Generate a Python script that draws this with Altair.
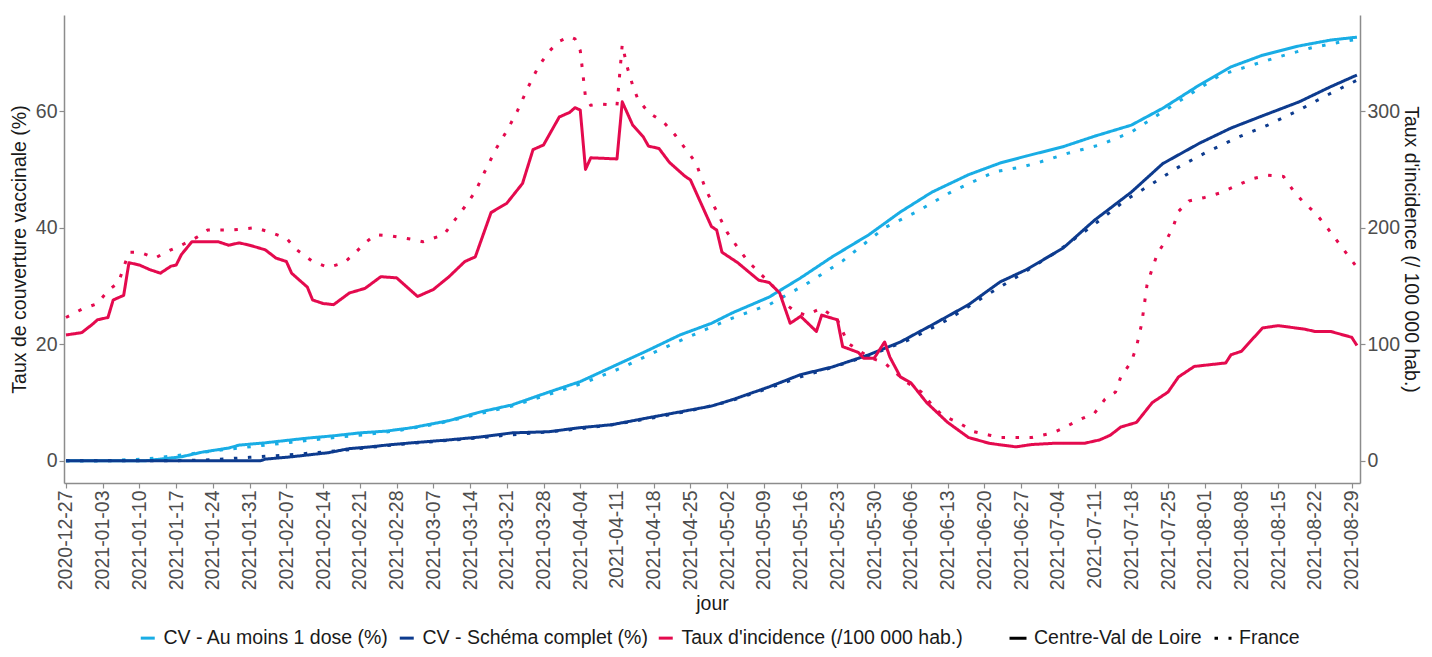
import altair as alt
import pandas as pd

FONT = "Liberation Sans"
START = "2020-12-27"

TICK_DATES = [
    "2020-12-27", "2021-01-03", "2021-01-10", "2021-01-17", "2021-01-24", "2021-01-31",
    "2021-02-07", "2021-02-14", "2021-02-21", "2021-02-28", "2021-03-07", "2021-03-14",
    "2021-03-21", "2021-03-28", "2021-04-04", "2021-04-11", "2021-04-18", "2021-04-25",
    "2021-05-02", "2021-05-09", "2021-05-16", "2021-05-23", "2021-05-30", "2021-06-06",
    "2021-06-13", "2021-06-20", "2021-06-27", "2021-07-04", "2021-07-11", "2021-07-18",
    "2021-07-25", "2021-08-01", "2021-08-08", "2021-08-15", "2021-08-22", "2021-08-29",
]

INDICATEURS = ["CV - Au moins 1 dose (%)", "CV - Schéma complet (%)", "Taux d'incidence (/100 000 hab.)"]
COULEURS = ["#19ADE5", "#0D3B8E", "#E40A4E"]
ZONES = ["Centre-Val de Loire", "France"]

# days since 2020-12-27
cv_dose1_j = [0, 15, 22, 26, 31, 33, 38, 46, 51, 56, 61, 66, 73, 79, 85, 92, 98, 104, 111, 117,
              123, 127, 134, 140, 146, 153, 159, 165, 172, 178, 183, 190, 196, 203, 209, 216, 222,
              228, 235, 241, 246]
cv_dose1_v = [0, 0, 0.7, 1.5, 2.2, 2.7, 3.1, 3.9, 4.3, 4.8, 5.1, 5.7, 6.9, 8.4, 9.6, 11.8, 13.6,
              16.1, 19.0, 21.6, 23.6, 25.4, 28.1, 31.4, 35.0, 38.8, 42.7, 46.1, 49.1, 51.1, 52.3,
              53.9, 55.7, 57.6, 60.5, 64.5, 67.6, 69.6, 71.2, 72.2, 72.7]

fr_dose1_j = [0, 8, 15, 22, 29, 36, 43, 50, 57, 64, 71, 78, 85, 92, 99, 106, 113, 120, 127, 134,
              141, 148, 156, 162, 169, 177, 182, 185, 191, 197, 203, 209, 214, 220, 226, 231, 237,
              243, 246]
fr_dose1_v = [0, 0.05, 0.3, 1.0, 1.8, 2.5, 3.2, 3.9, 4.5, 5.3, 6.4, 7.9, 9.4, 11.4, 13.5, 16.0,
              19.0, 21.8, 24.5, 26.8, 30.3, 34.3, 40.0, 42.7, 46.3, 49.6, 50.4, 51.1, 52.8, 54.2,
              56.4, 59.9, 62.8, 66.2, 67.9, 69.3, 70.8, 71.9, 72.3]

cv_compl_j = [0, 37, 38, 43, 50, 54, 58, 61, 66, 73, 79, 85, 92, 98, 104, 111, 117, 123, 127, 134,
              140, 146, 153, 159, 165, 172, 178, 183, 190, 196, 203, 209, 216, 222, 228, 235, 241,
              246]
cv_compl_v = [0, 0, 0.3, 0.7, 1.4, 2.1, 2.4, 2.7, 3.1, 3.6, 4.1, 4.8, 5.0, 5.7, 6.2, 7.4, 8.4, 9.4,
              10.5, 12.7, 14.8, 16.1, 18.2, 20.4, 23.3, 26.8, 30.7, 32.8, 36.5, 41.3, 46.1, 51.0,
              54.5, 57.1, 59.2, 61.6, 64.2, 66.2]

fr_compl_j = [0, 20, 28, 35, 42, 49, 56, 63, 70, 77, 84, 91, 98, 105, 112, 119, 126, 133, 140, 147,
              154, 161, 168, 175, 182, 189, 196, 202, 206, 212, 217, 223, 229, 235, 240, 246]
fr_compl_v = [0, 0, 0.2, 0.6, 1.0, 1.5, 2.1, 2.8, 3.3, 3.8, 4.4, 4.9, 5.5, 6.3, 7.4, 8.6, 10.1,
              12.2, 14.4, 16.3, 18.4, 20.9, 24.2, 28.2, 32.0, 36.0, 40.6, 44.8, 47.0, 50.4, 52.8,
              55.4, 57.6, 60.2, 62.6, 65.3]

cv_inc_j = [0, 3, 5, 6, 8, 9, 11, 12, 14, 16, 18, 20, 21, 22, 24, 29, 31, 33, 35, 38, 40, 42, 43,
            46, 47, 49, 51, 54, 57, 60, 63, 67, 70, 73, 76, 78, 81, 84, 87, 89, 91, 94, 96, 97, 98,
            99, 100, 105, 106, 108, 110, 111, 113, 115, 118, 119, 121, 123, 124, 125, 128, 132,
            134, 136, 138, 140, 143, 144, 147, 148, 151, 152, 154, 156, 157, 159, 161, 164, 168,
            172, 176, 181, 184, 188, 194, 197, 199, 201, 204, 207, 210, 212, 215, 221, 222, 224,
            228, 231, 236, 238, 241, 245, 246]
cv_inc_v = [108, 110, 117, 121, 123, 138, 142, 170, 168, 164, 161, 167, 168, 177, 188, 188, 185,
            187, 185, 181, 174, 171, 161, 149, 138, 135, 134, 144, 148, 158, 157, 141, 147, 158,
            171, 175, 213, 221, 238, 267, 271, 295, 299, 303, 301, 250, 260, 259, 308, 288, 278,
            270, 268, 256, 244, 241, 221, 201, 198, 179, 170, 155, 153, 144, 118, 124, 111, 125,
            121, 98, 93, 88, 88, 102, 89, 72, 67, 50, 33, 20, 15, 12, 14, 15, 15, 18, 22, 29, 33,
            50, 59, 72, 81, 84, 91, 94, 114, 116, 113, 111, 111, 106, 99]

fr_inc_j = [0, 3, 6, 8, 10, 12, 14, 17, 19, 22, 25, 27, 31, 34, 36, 39, 42, 44, 47, 50, 53, 55, 57,
            59, 62, 66, 68, 72, 74, 76, 78, 80, 82, 84, 86, 88, 90, 92, 94, 96, 97, 98, 99, 100,
            102, 105, 106, 107, 108, 109, 111, 114, 116, 118, 120, 121, 122, 125, 126, 128, 130,
            132, 134, 136, 137, 139, 141, 144, 147, 149, 151, 153, 156, 158, 160, 163, 165, 167,
            170, 173, 176, 178, 181, 184, 188, 190, 193, 196, 198, 200, 201, 203, 204, 205, 206,
            207, 208, 210, 211, 212, 214, 217, 220, 223, 226, 229, 232, 234, 236, 238, 240, 242,
            244, 246]
fr_inc_v = [123, 130, 135, 146, 153, 179, 179, 174, 179, 185, 192, 198, 198, 199, 200, 196, 191,
            181, 171, 166, 170, 178, 187, 194, 193, 190, 188, 194, 206, 218, 231, 250, 268, 283,
            300, 320, 338, 351, 360, 364, 362, 352, 312, 305, 306, 305, 357, 337, 322, 310, 299,
            290, 280, 268, 256, 244, 232, 205, 196, 183, 171, 162, 153, 144, 135, 128, 125, 131,
            121, 101, 95, 89, 84, 76, 68, 59, 48, 39, 33, 25, 22, 20, 20, 20, 24, 28, 35, 41, 53,
            59, 72, 85, 98, 118, 151, 165, 178, 192, 201, 214, 223, 226, 230, 236, 242, 245, 244,
            231, 221, 213, 202, 190, 178, 166]

base = pd.Timestamp(START)


def frame(parts):
    rows = []
    for ind, zone, days, vals in parts:
        for d, v in zip(days, vals):
            rows.append({
                "date": (base + pd.Timedelta(days=d)).strftime("%Y-%m-%d"),
                "valeur": v,
                "indicateur": ind,
                "zone": zone,
            })
    return pd.DataFrame(rows)


cov_df = frame([
    (INDICATEURS[0], ZONES[0], cv_dose1_j, cv_dose1_v),
    (INDICATEURS[0], ZONES[1], fr_dose1_j, fr_dose1_v),
    (INDICATEURS[1], ZONES[0], cv_compl_j, cv_compl_v),
    (INDICATEURS[1], ZONES[1], fr_compl_j, fr_compl_v),
])
inc_df = frame([
    (INDICATEURS[2], ZONES[0], cv_inc_j, cv_inc_v),
    (INDICATEURS[2], ZONES[1], fr_inc_j, fr_inc_v),
])

tick_ms = [int(pd.Timestamp(s, tz="UTC").timestamp() * 1000) for s in TICK_DATES]

x_enc = alt.X(
    "date:T",
    scale=alt.Scale(
        type="utc",
        domain=[alt.DateTime(year=2020, month=12, date=26, hours=15, utc=True),
                alt.DateTime(year=2021, month=8, date=30, hours=14, utc=True)],
    ),
    axis=alt.Axis(values=tick_ms, format="%Y-%m-%d", labelAngle=270, title="jour",
                  labelAlign="right", labelBaseline="middle", titlePadding=5),
)

color_enc = alt.Color(
    "indicateur:N",
    scale=alt.Scale(domain=INDICATEURS, range=COULEURS),
    legend=alt.Legend(orient="none", legendX=74, legendY=613, direction="horizontal",
                      title=None, symbolType="stroke", symbolSize=196, symbolStrokeWidth=3,
                      labelOffset=6, columnPadding=4, labelLimit=0),
)
dash_enc = alt.StrokeDash(
    "zone:N",
    scale=alt.Scale(domain=ZONES, range=[[1, 0], [3.5, 10.5]]),
    legend=alt.Legend(orient="none", legendX=944, legendY=613, direction="horizontal",
                      title=None, symbolType="stroke", symbolSize=289, symbolStrokeWidth=3,
                      symbolStrokeColor="black", labelOffset=6, columnPadding=6,
                      labelLimit=0),
)

line_props = dict(strokeWidth=3, strokeCap="butt", strokeJoin="round")

cov = alt.Chart(cov_df).mark_line(**line_props).encode(
    x=x_enc,
    y=alt.Y("valeur:Q",
            scale=alt.Scale(domain=[-3.8, 76.5], nice=False, zero=False),
            axis=alt.Axis(values=[0, 20, 40, 60], orient="left",
                          title="Taux de couverture vaccinale (%)", titlePadding=6)),
    color=color_enc,
    strokeDash=dash_enc,
)

inc = alt.Chart(inc_df).mark_line(**line_props).encode(
    x=x_enc,
    y=alt.Y("valeur:Q",
            scale=alt.Scale(domain=[-19, 382.5], nice=False, zero=False),
            axis=alt.Axis(values=[0, 100, 200, 300], orient="right",
                          title="Taux d'incidence (/ 100 000 hab.)", titlePadding=1)),
    color=color_enc,
    strokeDash=dash_enc,
)

chart = (
    alt.layer(cov, inc)
    .resolve_scale(y="independent")
    .properties(
        width=1296,
        height=468,
        padding={"left": 56, "top": 7, "right": 64, "bottom": 166},
        autosize=alt.AutoSizeParams(type="none"),
        background="white",
    )
    .configure_view(strokeWidth=0)
    .configure_line(color="black")
    .configure_axis(
        grid=False,
        domainColor="#8c8c8c",
        domainWidth=1.5,
        tickColor="#8c8c8c",
        tickWidth=1.2,
        tickSize=5,
        labelColor="#4d4d4d",
        labelFont=FONT,
        labelFontSize=19.5,
        labelPadding=2,
        titleFont=FONT,
        titleFontSize=19.5,
        titleFontWeight="normal",
        titleColor="#1a1a1a",
    )
    .configure_legend(
        labelFont=FONT,
        labelFontSize=19.5,
        labelColor="#1a1a1a",
        padding=0,
    )
)

chart.save("out.html", embed_options={"renderer": "svg", "actions": False})
